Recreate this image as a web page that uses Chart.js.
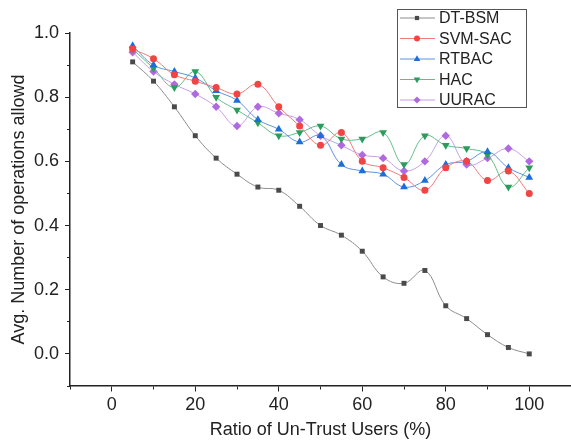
<!DOCTYPE html>
<html>
<head>
<meta charset="utf-8">
<script src="https://cdn.jsdelivr.net/npm/chart.js@4.4.0/dist/chart.umd.min.js"></script>
<style>
  html, body { margin: 0; padding: 0; background: #fff; }
  #wrap { width: 571px; height: 441px; }
</style>
</head>
<body>
<div id="wrap"><canvas id="grafico" width="571" height="441"></canvas></div>
<script>
// Datos
const ratios = [5, 10, 15, 20, 25, 30, 35, 40, 45, 50, 55, 60, 65, 70, 75, 80, 85, 90, 95, 100];
const dtBsm   = [0.91, 0.85, 0.77, 0.68, 0.61, 0.56, 0.52, 0.51, 0.46, 0.40, 0.37, 0.32, 0.24, 0.22, 0.26, 0.15, 0.11, 0.06, 0.02, 0.00];
const svmSac  = [0.95, 0.92, 0.87, 0.85, 0.83, 0.81, 0.84, 0.77, 0.71, 0.65, 0.69, 0.60, 0.58, 0.55, 0.51, 0.58, 0.60, 0.54, 0.57, 0.50];
const rtbac   = [0.96, 0.90, 0.88, 0.86, 0.82, 0.79, 0.73, 0.70, 0.66, 0.68, 0.59, 0.57, 0.56, 0.52, 0.54, 0.59, 0.60, 0.63, 0.58, 0.55];
const hac     = [0.95, 0.89, 0.83, 0.88, 0.80, 0.76, 0.72, 0.68, 0.69, 0.71, 0.67, 0.67, 0.69, 0.59, 0.68, 0.65, 0.64, 0.62, 0.52, 0.58];
const uurac   = [0.94, 0.88, 0.84, 0.81, 0.77, 0.71, 0.77, 0.75, 0.73, 0.68, 0.65, 0.62, 0.61, 0.57, 0.60, 0.68, 0.59, 0.61, 0.64, 0.60];
const yTicks  = [0.0, 0.2, 0.4, 0.6, 0.8, 1.0];
const xTicks  = [0, 20, 40, 60, 80, 100];

const fuente = 'Liberation Sans, Arial, sans-serif';
const tinta = '#222';

const esMayorX = v => xTicks.includes(Math.round(v));
const esMayorY = v => yTicks.includes(Math.round(v * 10) / 10);

function serie(nombre, valores, linea, punto, estilo, rot, radio) {
    return {
        label: nombre,
        data: ratios.map((x, i) => ({ x: x, y: valores[i] })),
        borderColor: linea,
        borderWidth: 1,
        backgroundColor: punto,
        pointBackgroundColor: punto,
        pointBorderColor: punto,
        pointBorderWidth: 0,
        pointStyle: estilo,
        pointRotation: rot,
        pointRadius: radio,
        tension: 0.4,
        fill: false
    };
}

// Leyenda dentro del área del gráfico, con marco
const leyendaCaja = {
    id: 'leyendaCaja',
    afterDraw(chart) {
        const ctx = chart.ctx;
        const area = chart.chartArea;
        const x0 = chart.width - 174, y0 = area.top - 24;
        const w = 129, h = 98, paso = 20.5;
        ctx.save();
        ctx.strokeStyle = '#555';
        ctx.lineWidth = 1;
        ctx.strokeRect(x0 + 0.5, y0 + 0.5, w, h);
        ctx.font = '16px ' + fuente;
        ctx.textBaseline = 'middle';
        chart.data.datasets.forEach((ds, i) => {
            const y = y0 + 9 + i * paso;
            ctx.strokeStyle = ds.borderColor;
            ctx.beginPath();
            ctx.moveTo(x0 + 3, y);
            ctx.lineTo(x0 + 38, y);
            ctx.stroke();
            ctx.fillStyle = ds.pointBackgroundColor;
            ctx.strokeStyle = ds.pointBackgroundColor;
            Chart.helpers.drawPoint(ctx, {
                pointStyle: ds.pointStyle,
                rotation: ds.pointRotation,
                radius: ds.pointRadius * 0.85,
                borderWidth: 0
            }, x0 + 20, y);
            ctx.fillStyle = tinta;
            ctx.fillText(ds.label, x0 + 42, y + 1);
        });
        ctx.restore();
    }
};

const ctx = document.getElementById('grafico').getContext('2d');
const grafico = new Chart(ctx, {
    type: 'line',
    data: {
        datasets: [
            serie('DT-BSM', dtBsm, '#8c8c8c', '#4a4a4a', 'rect', 0, 3.5),
            serie('SVM-SAC', svmSac, '#f27a7a', '#f04545', 'circle', 0, 3.5),
            serie('RTBAC', rtbac, '#5b93e0', '#1c6fd8', 'triangle', 0, 4.5),
            serie('HAC', hac, '#62bb8a', '#2a9d5c', 'triangle', 180, 4.5),
            serie('UURAC', uurac, '#c79cec', '#b06ae0', 'rectRot', 0, 4.2)
        ]
    },
    options: {
        responsive: false,
        animation: false,
        layout: { autoPadding: false, padding: { top: 33, right: 0, left: 10, bottom: 0 } },
        plugins: {
            legend: { display: false },
            tooltip: { enabled: false }
        },
        scales: {
            x: {
                type: 'linear',
                min: -10,
                max: 110,
                ticks: {
                    stepSize: 10,
                    autoSkip: false,
                    maxRotation: 0,
                    color: tinta,
                    font: { family: fuente, size: 18, lineHeight: 1.0 },
                    padding: 0,
                    callback: v => esMayorX(v) ? String(Math.round(v)) : ''
                },
                // marcas largas recortadas con guiones: 5px las principales, 3px las menores
                grid: {
                    drawOnChartArea: false,
                    drawTicks: true,
                    tickLength: 10,
                    color: tinta,
                    tickBorderDash: c => c.tick && esMayorX(c.tick.value) ? [5, 60] : [3, 60]
                },
                border: { display: true, color: tinta, width: 1.5 },
                title: {
                    display: true,
                    text: 'Ratio of Un-Trust Users (%)',
                    color: tinta,
                    font: { family: fuente, size: 18, lineHeight: 1.0 },
                    padding: { top: 7, bottom: 2 }
                }
            },
            y: {
                min: -0.1,
                max: 1.0,
                ticks: {
                    stepSize: 0.1,
                    autoSkip: false,
                    color: tinta,
                    font: { family: fuente, size: 18 },
                    padding: 6,
                    callback: v => esMayorY(v) ? (Math.round(v * 10) / 10).toFixed(1) : ''
                },
                grid: {
                    drawOnChartArea: false,
                    drawTicks: true,
                    tickLength: 5,
                    color: tinta,
                    tickBorderDash: c => c.tick && esMayorY(c.tick.value) ? [] : [3, 2],
                    tickBorderDashOffset: c => c.tick && esMayorY(c.tick.value) ? 0 : 3
                },
                border: { display: true, color: tinta, width: 1.5 },
                title: {
                    display: true,
                    text: 'Avg. Number of operations allowd',
                    color: tinta,
                    font: { family: fuente, size: 18, lineHeight: 1.0 },
                    padding: { top: 0, bottom: 0 }
                }
            }
        }
    },
    plugins: [leyendaCaja]
});
</script>
</body>
</html>
